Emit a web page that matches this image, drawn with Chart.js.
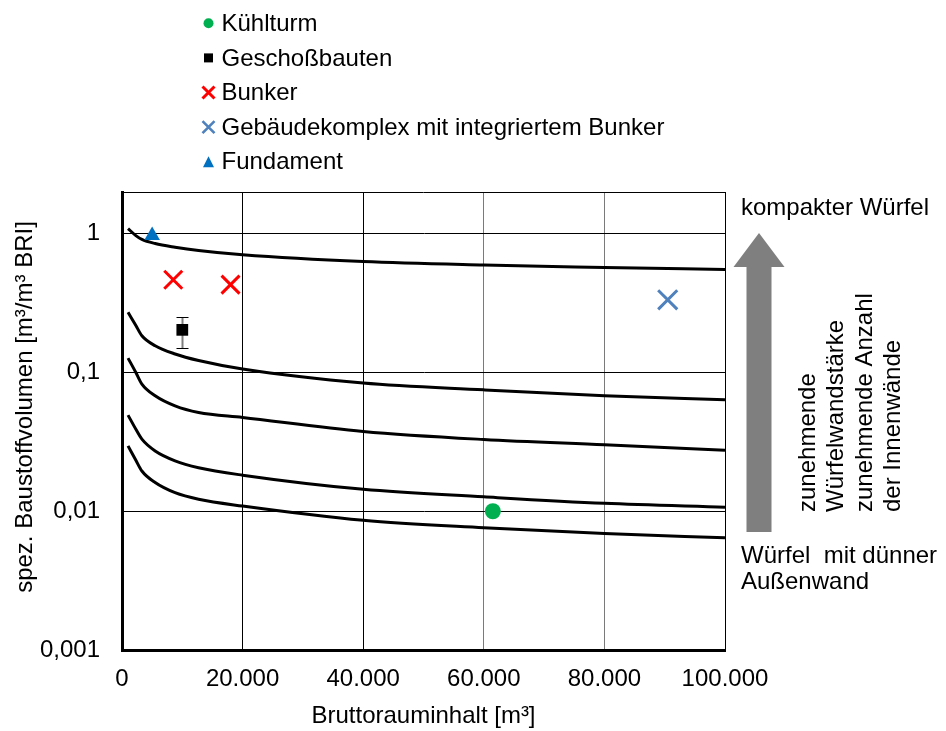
<!DOCTYPE html>
<html>
<head>
<meta charset="utf-8">
<script src="https://cdn.jsdelivr.net/npm/chart.js@4/dist/chart.umd.min.js"></script>
<style>
  html, body { margin: 0; padding: 0; background: #ffffff; }
  #wrap { width: 946px; height: 731px; }
</style>
</head>
<body>
<div id="wrap"><canvas id="chart" width="946" height="731"></canvas></div>
<script>
// Gross volume of the building (x) in m³
const curveX = [1000, 2300, 3300, 5500, 8800, 12700, 20000, 40000, 60000, 80000, 100000];
// Reference curves of specific material volume (cube models), top to bottom
const curveCompact = [1.09, 0.97, 0.91, 0.85, 0.80, 0.757, 0.705, 0.63, 0.595, 0.572, 0.552];
const curveB = [0.272, 0.218, 0.184, 0.156, 0.136, 0.122, 0.106, 0.084, 0.075, 0.068, 0.0636];
const curveC = [0.127, 0.100, 0.0826, 0.068, 0.0575, 0.0515, 0.0474, 0.0376, 0.0329, 0.0301, 0.0275];
const curveD = [0.0493, 0.039, 0.0331, 0.0272, 0.0231, 0.0206, 0.0182, 0.0144, 0.0127, 0.0114, 0.0107];
const curveThin = [0.0296, 0.0233, 0.0195, 0.0161, 0.0136, 0.0122, 0.0109, 0.0086, 0.0076, 0.0069, 0.00645];

// Individual buildings
const kuehlturmX = [61500];        const kuehlturmY = [0.01];
const geschossX = [10000];         const geschossY = [0.203];
const geschossLow = [0.150];       const geschossHigh = [0.25];
const bunkerX = [8500, 18000];     const bunkerY = [0.466, 0.43];
const komplexX = [90500];          const komplexY = [0.334];
const fundamentX = [5000];         const fundamentY = [0.97];

// Axes
const xTickValues = [0, 20000, 40000, 60000, 80000, 100000];
const xTickLabels = ['0', '20.000', '40.000', '60.000', '80.000', '100.000'];
const yTickValues = [0.001, 0.01, 0.1, 1];
const yTickLabels = ['0,001', '0,01', '0,1', '1'];
const xTitle = 'Bruttorauminhalt [m³]';
const yTitle = 'spez. Baustoffvolumen [m³/m³ BRI]';

// Side annotation
const topNote = 'kompakter Würfel';
const bottomNote = ['Würfel  mit dünner', 'Außenwand'];
const arrowNotes = ['zunehmende', 'Würfelwandstärke', 'zunehmende Anzahl', 'der Innenwände'];

const FONT = '"Liberation Sans", Arial, Helvetica, sans-serif';
const pts = (xs, ys) => xs.map((x, i) => ({ x: x, y: ys[i] }));

const curveStyle = {
  type: 'scatter',
  showLine: true,
  borderColor: '#000000',
  borderWidth: 3,
  pointRadius: 0,
  pointHoverRadius: 0,
  cubicInterpolationMode: 'monotone',
  fill: false,
  legendMarker: null
};

// Small marker drawing used by the legend list
function drawMarker(ctx, m, x, y) {
  ctx.save();
  ctx.beginPath();
  if (m.shape === 'circle') {
    ctx.fillStyle = m.color;
    ctx.arc(x, y, m.size, 0, Math.PI * 2);
    ctx.fill();
  } else if (m.shape === 'square') {
    ctx.fillStyle = m.color;
    ctx.fillRect(x - m.size / 2, y - m.size / 2, m.size, m.size);
  } else if (m.shape === 'cross') {
    ctx.strokeStyle = m.color;
    ctx.lineWidth = m.width;
    const h = m.size / 2;
    ctx.moveTo(x - h, y - h); ctx.lineTo(x + h, y + h);
    ctx.moveTo(x + h, y - h); ctx.lineTo(x - h, y + h);
    ctx.stroke();
  } else if (m.shape === 'triangle') {
    ctx.fillStyle = m.color;
    const h = m.size / 2;
    ctx.moveTo(x, y - h); ctx.lineTo(x + h, y + h); ctx.lineTo(x - h, y + h);
    ctx.closePath();
    ctx.fill();
  }
  ctx.restore();
}

const legendList = {
  id: 'legendList',
  afterDraw(chart) {
    const ctx = chart.ctx;
    const rowTop = 23.3, rowStep = 34.6, markerX = 208.5, textX = 221.5;
    ctx.save();
    ctx.font = '24px ' + FONT;
    ctx.fillStyle = '#000000';
    ctx.textAlign = 'left';
    ctx.textBaseline = 'middle';
    let row = 0;
    chart.data.datasets.forEach((ds) => {
      if (!ds.legendMarker) return;
      const y = rowTop + row * rowStep;
      drawMarker(ctx, ds.legendMarker, markerX, y);
      ctx.fillText(ds.label, textX, y + 1);
      row++;
    });
    ctx.restore();
  }
};

// Thin frame line along the top of the plot area
const frameTop = {
  id: 'frameTop',
  afterDatasetsDraw(chart) {
    const { ctx, chartArea } = chart;
    ctx.save();
    ctx.strokeStyle = '#000000';
    ctx.lineWidth = 1;
    ctx.beginPath();
    ctx.moveTo(chartArea.left, Math.round(chartArea.top) + 0.5);
    ctx.lineTo(chartArea.right, Math.round(chartArea.top) + 0.5);
    ctx.stroke();
    ctx.restore();
  }
};

// Vertical title of the value axis, set slightly above the plot centre
const yAxisTitle = {
  id: 'yAxisTitle',
  afterDraw(chart) {
    const { ctx, chartArea } = chart;
    ctx.save();
    ctx.font = '24px ' + FONT;
    ctx.fillStyle = '#000000';
    ctx.textAlign = 'center';
    ctx.textBaseline = 'middle';
    ctx.translate(25.5, (chartArea.top + chartArea.bottom) / 2 - 14);
    ctx.rotate(-Math.PI / 2);
    ctx.fillText(yTitle, 0, 0);
    ctx.restore();
  }
};

const errorBars = {
  id: 'errorBars',
  beforeDatasetsDraw(chart) {
    const { ctx, scales } = chart;
    ctx.save();
    geschossX.forEach((xv, i) => {
      const x = Math.round(scales.x.getPixelForValue(xv)) + 0.5;
      const yLo = scales.y.getPixelForValue(geschossLow[i]);
      const yHi = scales.y.getPixelForValue(geschossHigh[i]);
      ctx.strokeStyle = '#7f7f7f';
      ctx.lineWidth = 2;
      ctx.beginPath();
      ctx.moveTo(x, yHi); ctx.lineTo(x, yLo);
      ctx.stroke();
      ctx.strokeStyle = '#000000';
      ctx.lineWidth = 1;
      ctx.beginPath();
      ctx.moveTo(x - 6, Math.round(yHi) + 0.5); ctx.lineTo(x + 6, Math.round(yHi) + 0.5);
      ctx.moveTo(x - 6, Math.round(yLo) + 0.5); ctx.lineTo(x + 6, Math.round(yLo) + 0.5);
      ctx.stroke();
    });
    ctx.restore();
  }
};

const sideNotes = {
  id: 'sideNotes',
  afterDraw(chart) {
    const { ctx, chartArea } = chart;
    const r = chartArea.right;
    const cx = r + 34;
    ctx.save();
    // grey arrow pointing up
    ctx.fillStyle = '#7f7f7f';
    ctx.beginPath();
    ctx.moveTo(cx, 233);
    ctx.lineTo(cx + 25.5, 267);
    ctx.lineTo(cx + 12.5, 267);
    ctx.lineTo(cx + 12.5, 532);
    ctx.lineTo(cx - 12.5, 532);
    ctx.lineTo(cx - 12.5, 267);
    ctx.lineTo(cx - 25.5, 267);
    ctx.closePath();
    ctx.fill();

    ctx.font = '24px ' + FONT;
    ctx.fillStyle = '#000000';
    ctx.textAlign = 'left';
    ctx.textBaseline = 'middle';
    ctx.fillText(topNote, r + 16, 208);
    bottomNote.forEach((t, i) => ctx.fillText(t, r + 16, 556 + i * 26.5));

    arrowNotes.forEach((t, i) => {
      ctx.save();
      ctx.translate(r + 83.5 + i * 28.3, 512);
      ctx.rotate(-Math.PI / 2);
      ctx.fillText(t, 0, 0);
      ctx.restore();
    });
    ctx.restore();
  }
};

const datasets = [
  {
    label: 'Kühlturm', data: pts(kuehlturmX, kuehlturmY),
    pointStyle: 'circle', pointRadius: 8, pointBackgroundColor: '#00b050', pointBorderWidth: 0,
    legendMarker: { shape: 'circle', color: '#00b050', size: 5 }
  },
  {
    label: 'Geschoßbauten', data: pts(geschossX, geschossY),
    pointStyle: 'rect', pointRadius: 8.3, pointBackgroundColor: '#000000', pointBorderWidth: 0,
    legendMarker: { shape: 'square', color: '#000000', size: 9 }
  },
  {
    label: 'Bunker', data: pts(bunkerX, bunkerY),
    pointStyle: 'crossRot', pointRadius: 12.7, pointBorderColor: '#ff0000', pointBorderWidth: 3,
    legendMarker: { shape: 'cross', color: '#ff0000', size: 12, width: 3 }
  },
  {
    label: 'Gebäudekomplex mit integriertem Bunker', data: pts(komplexX, komplexY),
    pointStyle: 'crossRot', pointRadius: 13.5, pointBorderColor: '#4f81bd', pointBorderWidth: 3,
    legendMarker: { shape: 'cross', color: '#4f81bd', size: 12, width: 2.6 }
  },
  {
    label: 'Fundament', data: pts(fundamentX, fundamentY),
    pointStyle: 'triangle', pointRadius: 9, pointBackgroundColor: '#0070c0', pointBorderWidth: 0,
    legendMarker: { shape: 'triangle', color: '#0070c0', size: 11 }
  },
  Object.assign({ label: 'kompakter Würfel', data: pts(curveX, curveCompact) }, curveStyle),
  Object.assign({ label: 'Kurve 2', data: pts(curveX, curveB) }, curveStyle),
  Object.assign({ label: 'Kurve 3', data: pts(curveX, curveC) }, curveStyle),
  Object.assign({ label: 'Kurve 4', data: pts(curveX, curveD) }, curveStyle),
  Object.assign({ label: 'Würfel mit dünner Außenwand', data: pts(curveX, curveThin) }, curveStyle)
];

new Chart(document.getElementById('chart'), {
  type: 'scatter',
  data: { datasets: datasets },
  plugins: [errorBars, frameTop, legendList, sideNotes, yAxisTitle],
  options: {
    responsive: false,
    devicePixelRatio: 1,
    animation: false,
    events: [],
    layout: { padding: { top: 192, right: 221, bottom: 0, left: 1 } },
    plugins: {
      legend: { display: false },
      tooltip: { enabled: false }
    },
    scales: {
      x: {
        type: 'linear', min: 0, max: 100000,
        afterBuildTicks: (s) => { s.ticks = xTickValues.map((v) => ({ value: v })); },
        afterFit: (s) => { s.height = 81; },
        ticks: {
          callback: (v, i) => xTickLabels[i],
          padding: 15, maxRotation: 0, autoSkip: false,
          color: '#000000', font: { family: FONT, size: 24 }
        },
        grid: {
          drawTicks: false, lineWidth: 1,
          color: (c) => (c.index === 3 || c.index === 4 ? '#7a7a7a' : '#000000')
        },
        border: { display: true, color: '#000000', width: 3 },
        title: {
          display: true, text: xTitle, color: '#000000',
          font: { family: FONT, size: 24 }, padding: { top: 8, bottom: 0 }
        }
      },
      y: {
        type: 'logarithmic', min: 0.001, max: 2,
        afterBuildTicks: (s) => { s.ticks = yTickValues.map((v) => ({ value: v })); },
        afterFit: (s) => { s.width = 121; },
        ticks: {
          callback: (v, i) => yTickLabels[i],
          padding: 22, autoSkip: false,
          color: '#000000', font: { family: FONT, size: 24 }
        },
        grid: { drawTicks: false, lineWidth: 1, color: '#000000' },
        border: { display: true, color: '#000000', width: 3 }
      }
    }
  }
});
</script>
</body>
</html>
